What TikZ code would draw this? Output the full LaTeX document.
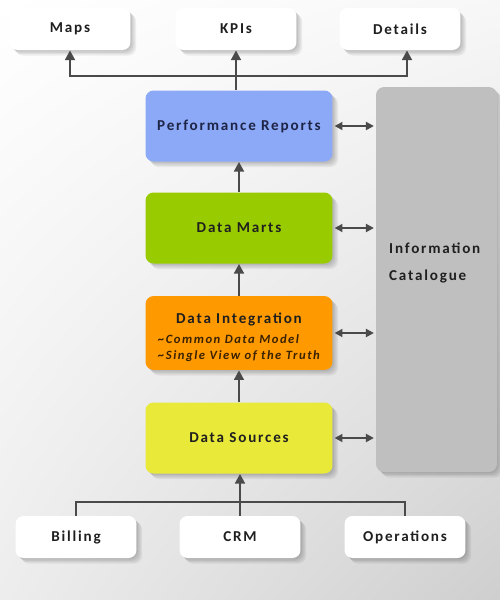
\documentclass[tikz,border=0pt]{standalone}
\usepackage{fontspec}
\setmainfont[LetterSpace=12]{Carlito}
\usetikzlibrary{arrows.meta, shadings}

\definecolor{prblue}{HTML}{8CA9F8}
\definecolor{dmgreen}{HTML}{99CC00}
\definecolor{diorange}{HTML}{FF9900}
\definecolor{dsyellow}{HTML}{E9E93A}
\definecolor{catgray}{HTML}{BFBFBF}
\definecolor{linkgray}{HTML}{4A4A4A}
\definecolor{inkdark}{HTML}{1F1F1F}
\definecolor{inknavy}{HTML}{1E2446}
\definecolor{inkbrown}{HTML}{3A2200}

\tikzset{
  softshade/.style={preaction={fill=black, opacity=0.06, transform canvas={xshift=#1, yshift=-#1}}},
  box/.style={rounded corners=0.16cm, align=center, font=\bfseries\fontsize{8.6}{10}\selectfont,
    text=inkdark, softshade=0.8pt, softshade=1.6pt, softshade=2.4pt, softshade=3.2pt},
  endbox/.style={box, fill=white, minimum width=2.42cm, minimum height=0.84cm},
  layer/.style={box, minimum width=3.74cm, minimum height=1.42cm},
  link/.style={linkgray, line width=1.6pt, -{Triangle[length=5.5pt, width=5.5pt]}},
  twoway/.style={link, line width=1.3pt, {Triangle[length=4.5pt, width=4.5pt]}-{Triangle[length=4.5pt, width=4.5pt]},
    shorten <=1pt, shorten >=1pt},
}

\begin{document}
\begin{tikzpicture}[x=0.02cm, y=-0.02cm]
  \shade[upper left=white, upper right=black!3, lower left=black!7, lower right=black!19]
    (0,0) rectangle (500,600);
  \useasboundingbox (0,0) rectangle (500,600);

  % outputs
  \node[endbox] (maps) at (70,29) {Maps};
  \node[endbox] (kpis) at (236,29) {KPIs};
  \node[endbox] (details) at (400,29) {Details};

  % layers
  \node[layer, fill=prblue, text=inknavy] (reports) at (239,126) {Performance Reports};
  \node[layer, fill=dmgreen] (marts) at (239,228) {Data Marts};
  \node[layer, fill=diorange] (integ) at (239,333) {\rule{0pt}{12.5pt}Data Integration\\[2pt]
    {\color{inkbrown}\fontsize{7.2}{9.2}\selectfont\itshape
    \begin{tabular}{@{}l@{}}\textasciitilde Common Data Model\\ \textasciitilde Single View of the Truth\end{tabular}}};
  \node[layer, fill=dsyellow] (sources) at (239,438) {Data Sources};

  \node[box, fill=catgray, minimum width=2.42cm, minimum height=7.7cm] (catalogue) at (436.5,279.5) {};
  \node[anchor=west, align=left, font=\bfseries\fontsize{8.6}{10}\selectfont, text=inkdark] (cattext)
    at (383,263) {Information\\[5pt]Catalogue};

  % inputs
  \node[endbox] (billing) at (76,537) {Billing};
  \node[endbox] (crm) at (240,537) {CRM};
  \node[endbox] (ops) at (405,537) {Operations};

  % top bus
  \coordinate (topbus) at (236,76);
  \draw[link] (reports.north -| kpis) -- (kpis.south);
  \draw[link] (topbus) -| (maps.south);
  \draw[link] (topbus) -| ([xshift=0.14cm]details.south);

  % flow upwards
  \draw[link] (sources) -- (integ);
  \draw[link] (integ) -- (marts);
  \draw[link] (marts) -- (reports);

  % catalogue links
  \foreach \layer in {reports, marts, integ, sources}
    \draw[twoway] (\layer.east) -- (\layer.east -| catalogue.west);

  % bottom bus
  \coordinate (botbus) at (240,502);
  \draw[linkgray, line width=1.6pt] (billing.north) |- (botbus) -| (ops.north);
  \draw[link] (crm.north) -- (crm.north |- sources.south);
\end{tikzpicture}
\end{document}
